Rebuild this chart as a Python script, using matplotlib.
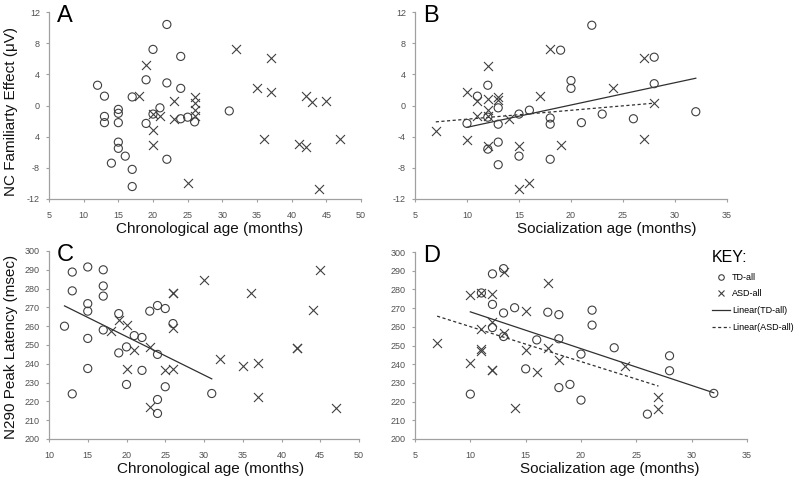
import matplotlib
matplotlib.use("Agg")
import matplotlib.pyplot as plt
from matplotlib.lines import Line2D

plt.rcParams['font.family'] = ['Liberation Sans', 'DejaVu Sans']

# panel A: chronological age vs NC familiarity effect
td_a_x = [12, 13, 13, 13, 14, 15, 15, 15, 15, 15, 16, 17, 17, 17, 19, 19, 20, 20, 21, 22,
          22, 22, 24, 24, 24, 25, 26, 31]
td_a_y = [2.6, 1.2, -1.4, -2.2, -7.4, -0.5, -1.0, -2.2, -4.7, -5.5, -6.5, 1.1, -8.2, -10.4,
          3.3, -2.3, 7.2, -1.1, -0.3, 10.4, 2.9, -6.9, 6.3, 2.2, -1.7, -1.5, -2.1, -0.7]
asd_a_x = [18, 19, 20, 20, 20, 21, 23, 23, 25, 26, 26, 26, 26, 32, 35, 36, 37, 37, 41, 42,
           42, 43, 44, 45, 47]
asd_a_y = [1.2, 5.2, -1.1, -3.2, -5.1, -1.3, 0.6, -1.7, -9.9, 1.1, 0.3, -0.6, -1.3, 7.3,
           2.3, -4.3, 6.1, 1.7, -5.0, 1.2, -5.3, 0.4, -10.7, 0.6, -4.3]

# panel B: socialization age vs NC familiarity effect
td_b_x = [10, 11, 12, 12, 12, 13, 13, 13, 13, 15, 15, 16, 18, 18, 18, 19, 20, 20, 21, 22,
          23, 26, 28, 28, 32]
td_b_y = [-2.3, 1.2, 2.6, -1.5, -5.6, -0.3, -2.4, -4.7, -7.6, -1.1, -6.5, -0.6, -1.6, -2.4,
          -6.9, 7.1, 3.2, 2.2, -2.2, 10.3, -1.1, -1.7, 6.2, 2.8, -0.8]
asd_b_x = [7, 10, 10, 11, 11, 12, 12, 12, 12, 12, 13, 13, 14, 15, 15, 16, 17, 18, 19, 24,
           27, 27, 28]
asd_b_y = [-3.3, 1.7, -4.4, 0.6, -1.3, 5.1, 0.8, -0.6, -1.3, -5.2, 1.1, 0.7, -1.7, -5.2,
           -10.7, -10.0, 1.2, 7.3, -5.1, 2.3, 6.1, -4.3, 0.3]
td_b_fit_x, td_b_fit_y = [10, 32], [-2.8, 3.5]
asd_b_fit_x, asd_b_fit_y = [7, 28], [-2.1, 0.3]

# panel C: chronological age vs N290 latency
td_c_x = [12, 13, 13, 13, 15, 15, 15, 15, 15, 17, 17, 17, 17, 19, 19, 20, 20, 21, 22, 22,
          23, 24, 24, 24, 24, 25, 25, 26, 31]
td_c_y = [260, 288.8, 278.8, 224, 291.5, 272, 268, 253.5, 237.5, 290, 281.4, 276, 258,
          266.7, 245.8, 249, 229, 255, 254, 236.5, 268, 271, 245, 221, 213.6, 269.4, 227.8,
          261.4, 224.2]
asd_c_x = [18, 19, 20, 20, 21, 23, 23, 25, 26, 26, 26, 26, 30, 32, 35, 36, 37, 37, 42, 42,
           44, 45, 47]
asd_c_y = [257.5, 263.5, 260.5, 237.5, 247.5, 248.7, 216.8, 236.6, 237.5, 277.7, 277.7,
           259.3, 284.4, 242.5, 238.8, 277.7, 240.5, 222.5, 248.5, 248.5, 268.8, 290, 216.3]
td_c_fit_x, td_c_fit_y = [12, 31], [270.8, 232]

# panel D: socialization age vs N290 latency
td_d_x = [10, 11, 12, 12, 12, 13, 13, 13, 14, 15, 16, 17, 18, 18, 18, 19, 20, 20, 21, 21,
          23, 26, 28, 28, 32]
td_d_y = [224, 278.1, 288.3, 272, 259.6, 291.1, 267.4, 254.8, 270.2, 237.5, 253, 267.8,
          266.5, 253.6, 227.5, 229.2, 245.4, 220.8, 268.9, 260.9, 248.8, 213.3, 244.5, 236.5,
          224.4]
asd_d_x = [7, 10, 10, 11, 11, 11, 11, 12, 12, 12, 12, 13, 13, 14, 15, 15, 16, 17, 17, 18,
           24, 27, 27]
asd_d_y = [251.5, 277, 240.6, 278, 258.7, 248.3, 247, 277.4, 262.6, 237, 237, 289.5, 256.8,
           216.8, 268.5, 247.5, 235.9, 283.6, 248.4, 242.2, 239, 222.2, 215.8]
td_d_fit_x, td_d_fit_y = [10, 32], [268, 224.7]
asd_d_fit_x, asd_d_fit_y = [7, 27], [265.7, 228.3]

nc_ticks = [-12, -8, -4, 0, 4, 8, 12]
nc_labels_a = ['-12', '-8', '4', '0', '4', '8', '12']
nc_labels_b = ['-12', '-8', '-4', '0', '4', '8', '12']
lat_ticks = list(range(200, 301, 10))

mk = '#3f3f3f'
W, H = 800, 482
fig = plt.figure(figsize=(W / 100, H / 100), dpi=100)


def make_ax(l, t, r, b):
    return fig.add_axes([l / W, 1 - b / H, (r - l) / W, (b - t) / H])


def style(ax, letter, xlabel, ylabel=None, xl_pos=0.52, yl_pos=0.47):
    for s in ['top', 'right']:
        ax.spines[s].set_visible(False)
    for s in ['left', 'bottom']:
        ax.spines[s].set_color('#a0a0a0')
        ax.spines[s].set_linewidth(0.9)
    ax.tick_params(colors='#a0a0a0', labelcolor='#505050', labelsize=6.5,
                   length=2.5, width=0.8)
    ax.tick_params(axis='x', pad=6)
    ax.tick_params(axis='y', pad=4)
    ax.set_xlabel(xlabel, fontsize=11, color='#111111')
    ax.xaxis.set_label_coords(xl_pos, -0.125)
    if ylabel:
        ax.set_ylabel(ylabel, fontsize=11, color='#111111')
        ax.yaxis.set_label_coords(-0.1, yl_pos)
    ax.text(0.025, 1.035, letter, transform=ax.transAxes, fontsize=17,
            va='top', ha='left', color='black')


def pts(ax, tx, ty, ax_x, ax_y):
    ax.scatter(tx, ty, s=34, facecolors='none', edgecolors=mk, linewidths=0.8,
               zorder=3, clip_on=False)
    ax.scatter(ax_x, ax_y, s=42, marker='x', c=mk, linewidths=0.8, zorder=3,
               clip_on=False)


# A
ax = make_ax(49, 12, 361, 199)
pts(ax, td_a_x, td_a_y, asd_a_x, asd_a_y)
ax.set_xlim(5, 50)
ax.set_xticks(range(5, 51, 5))
ax.set_ylim(-12, 12)
ax.set_yticks(nc_ticks)
ax.set_yticklabels(nc_labels_a)
style(ax, 'A', 'Chronological age (months)', 'NC Familiarty Effect (\u03bcV)', 0.516, 0.47)

# B
ax = make_ax(415, 12, 727, 199)
pts(ax, td_b_x, td_b_y, asd_b_x, asd_b_y)
ax.plot(td_b_fit_x, td_b_fit_y, color='#303030', lw=0.9)
ax.plot(asd_b_fit_x, asd_b_fit_y, color='#303030', lw=0.9, ls=(0, (2.5, 2)))
ax.set_xlim(5, 35)
ax.set_xticks(range(5, 36, 5))
ax.set_ylim(-12, 12)
ax.set_yticks(nc_ticks)
ax.set_yticklabels(nc_labels_b)
style(ax, 'B', 'Socialization age (months)', xl_pos=0.615)

# C
ax = make_ax(49, 251, 359, 439)
pts(ax, td_c_x, td_c_y, asd_c_x, asd_c_y)
ax.plot(td_c_fit_x, td_c_fit_y, color='#303030', lw=0.9)
ax.set_xlim(10, 50)
ax.set_xticks(range(10, 51, 5))
ax.set_ylim(200, 300)
ax.set_yticks(lat_ticks)
style(ax, 'C', 'Chronological age (months)', 'N290 Peak Latency (msec)', 0.52, 0.49)

# D
ax = make_ax(415, 252, 747, 439)
pts(ax, td_d_x, td_d_y, asd_d_x, asd_d_y)
ax.plot(td_d_fit_x, td_d_fit_y, color='#303030', lw=0.9)
ax.plot(asd_d_fit_x, asd_d_fit_y, color='#303030', lw=0.9, ls=(0, (2.5, 2)))
ax.set_xlim(5, 35)
ax.set_xticks(range(5, 36, 5))
ax.set_ylim(200, 300)
ax.set_yticks(lat_ticks)
style(ax, 'D', 'Socialization age (months)', xl_pos=0.587)

handles = [
    Line2D([], [], ls='none', marker='o', mfc='none', mec=mk, ms=4, mew=0.8),
    Line2D([], [], ls='none', marker='x', color=mk, ms=4, mew=0.8),
    Line2D([], [], color='#303030', lw=0.9),
    Line2D([], [], color='#303030', lw=0.9, ls=(0, (2.5, 2))),
]
labels = ['TD-all', 'ASD-all', 'Linear(TD-all)', 'Linear(ASD-all)']
leg = ax.legend(handles, labels, title='KEY:', loc='upper left',
                bbox_to_anchor=(712 / W, 1 - 250 / H), bbox_transform=fig.transFigure,
                frameon=False, fontsize=6.5, title_fontproperties={'size': 11.5},
                alignment='left', handlelength=2.0, handletextpad=0.2,
                labelspacing=0.85, borderpad=0, borderaxespad=0)

fig.savefig('out.png', dpi=100)
